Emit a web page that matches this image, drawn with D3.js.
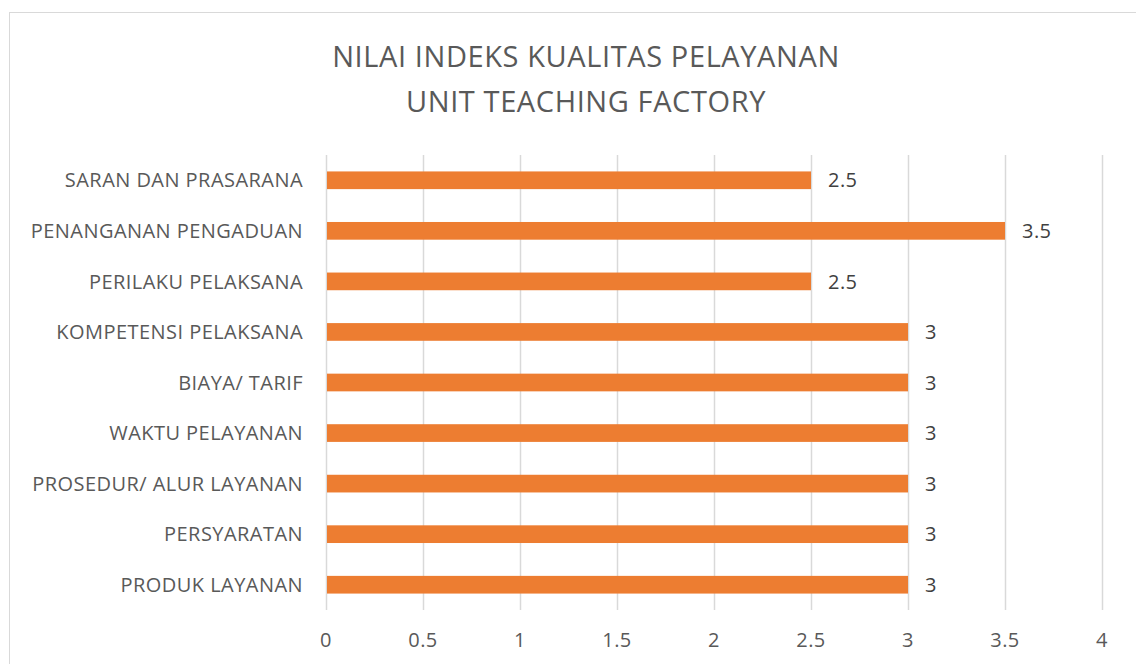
<!DOCTYPE html>
<html>
<head>
<meta charset="utf-8">
<script src="https://cdn.jsdelivr.net/npm/d3@7"></script>
<style>
  body { margin: 0; background: #fff; }
  svg { display: block; font-family: "Open Sans", sans-serif; }
</style>
</head>
<body>
<div id="chart"></div>
<script>
// categories listed top to bottom, as in the picture
const categories = [
  "SARAN DAN PRASARANA",
  "PENANGANAN PENGADUAN",
  "PERILAKU PELAKSANA",
  "KOMPETENSI PELAKSANA",
  "BIAYA/ TARIF",
  "WAKTU PELAYANAN",
  "PROSEDUR/ ALUR LAYANAN",
  "PERSYARATAN",
  "PRODUK LAYANAN"
];
const values = [2.5, 3.5, 2.5, 3, 3, 3, 3, 3, 3];
const xTicks = [0, 0.5, 1, 1.5, 2, 2.5, 3, 3.5, 4];
const titleLines = ["NILAI INDEKS KUALITAS PELAYANAN", "UNIT TEACHING FACTORY"];

const width = 1136, height = 664;
const margin = {left: 326, right: 34, top: 155, bottom: 54};
const small = 20, spacing = 0.45;

const svg = d3.select("#chart").append("svg")
    .attr("width", width)
    .attr("height", height);

// chart frame (runs off the right and bottom edges)
svg.append("rect")
    .attr("x", 9.5).attr("y", 12.5)
    .attr("width", 1150).attr("height", 700)
    .attr("fill", "#fff")
    .attr("stroke", "#d9d9d9");

const x = d3.scaleLinear()
    .domain([0, 4])
    .range([margin.left, width - margin.right]);

const y = d3.scaleBand()
    .domain(categories)
    .range([margin.top, height - margin.bottom])
    .paddingInner(0.65)
    .paddingOuter(0.325);

// gridlines
svg.append("g")
  .selectAll("line")
  .data(xTicks)
  .join("line")
    .attr("x1", d => Math.round(x(d)) + 0.5)
    .attr("x2", d => Math.round(x(d)) + 0.5)
    .attr("y1", margin.top)
    .attr("y2", height - margin.bottom)
    .attr("stroke", "#d9d9d9")
    .attr("stroke-width", 1.5);

// bars
svg.append("g")
  .selectAll("rect")
  .data(categories)
  .join("rect")
    .attr("x", x(0) + 1)
    .attr("y", d => y(d))
    .attr("width", (d, i) => x(values[i]) - x(0) - 1)
    .attr("height", y.bandwidth())
    .attr("fill", "#ed7d31");

// value labels
svg.append("g")
  .selectAll("text")
  .data(categories)
  .join("text")
    .attr("x", (d, i) => x(values[i]) + 17)
    .attr("y", d => y(d) + y.bandwidth() / 2)
    .attr("dy", "0.36em")
    .attr("fill", "#404040")
    .attr("font-size", small)
    .attr("letter-spacing", spacing)
    .text((d, i) => values[i]);

// category labels
svg.append("g")
  .selectAll("text")
  .data(categories)
  .join("text")
    .attr("x", margin.left - 23)
    .attr("y", d => y(d) + y.bandwidth() / 2)
    .attr("dy", "0.36em")
    .attr("text-anchor", "end")
    .attr("fill", "#595959")
    .attr("font-size", small)
    .attr("letter-spacing", spacing)
    .text(d => d);

// x tick labels
svg.append("g")
  .selectAll("text")
  .data(xTicks)
  .join("text")
    .attr("x", d => x(d))
    .attr("y", 640)
    .attr("dy", "0.36em")
    .attr("text-anchor", "middle")
    .attr("fill", "#595959")
    .attr("font-size", small)
    .attr("letter-spacing", spacing)
    .text(d => d);

// title
svg.append("g")
  .selectAll("text")
  .data(titleLines)
  .join("text")
    .attr("x", 586)
    .attr("y", (d, i) => 57 + i * 45)
    .attr("dy", "0.36em")
    .attr("text-anchor", "middle")
    .attr("fill", "#595959")
    .attr("font-size", 29)
    .attr("letter-spacing", 0.6)
    .text(d => d);
</script>
</body>
</html>
